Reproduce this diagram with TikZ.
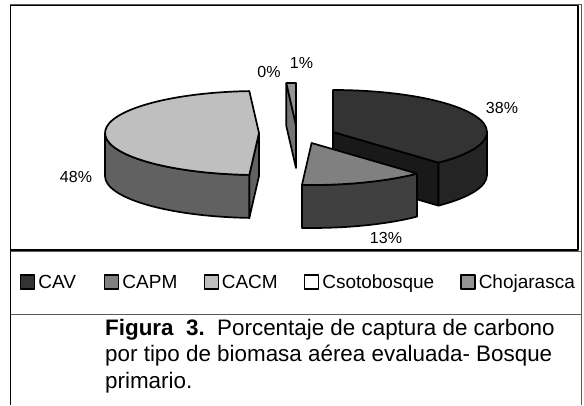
\documentclass[tikz,border=0pt]{standalone}
\usepackage{fontspec}
\setmainfont{Liberation Sans}
\usetikzlibrary{positioning}
\definecolor{cavtop}{gray}{0.2}
\definecolor{cavside}{gray}{0.14}
\definecolor{cavcut}{gray}{0.1}
\definecolor{capmtop}{gray}{0.5}
\definecolor{capmside}{gray}{0.25}
\definecolor{cacmtop}{gray}{0.75}
\definecolor{cacmside}{gray}{0.38}
\definecolor{chojtop}{gray}{0.58}
\definecolor{chojside}{gray}{0.45}
\definecolor{rule}{gray}{0.35}

\begin{document}
\begin{tikzpicture}[x=1pt,y=1pt,
line join=round,
rim/.style={x radius=154,y radius=42},
face/.style={%
draw,
line width=1.7pt
},
pct/.style={%
font=\fontsize{16}{19}\selectfont,
inner sep=0pt
},
key/.style={%
anchor=west,
draw,
line width=1.1pt,
minimum size=14pt,
inner sep=0pt
},
keytext/.style={%
font=\fontsize{19}{22}\selectfont,
text height=13.6pt,
text depth=0pt,
inner sep=0pt
},
caption/.style={%
font=\fontsize{22.4}{26.5}\selectfont,
anchor=north west,
align=left,
inner sep=0pt
},
]
\useasboundingbox(0,0)rectangle(584,405);
%% frame
\draw[rule,line width=1pt](10.5,0)--(10.5,400)--(581,400)--(581,0);
\draw[rule,line width=1pt](10.5,154)--(581,154);
\draw[rule,line width=1pt](10.5,91)--(581,91);
\draw[line width=1.2pt](10.5,155)rectangle(578,399.5);
\draw[line width=1.2pt](10.5,0)--(10.5,400);
%% Chojarasca
\begin{scope}[shift={(296,280)}]
\draw[face,fill=chojside](0,0)--(93.6:154 and 42)--++(0,-43)--(0,-43)--cycle;
\draw[face,fill=chojtop](0,0)--(90:154 and 42)arc[rim,start angle=90,end angle=93.6]--cycle;
\end{scope}
%% CACM
\begin{scope}[shift={(259,272)}]
\draw[face,fill=cacmside](0,0)--(266.4:154 and 42)--++(0,-43)--(0,-43)--cycle;
\draw[face,fill=cacmside](180:154 and 42)arc[rim,start angle=180,end angle=266.4]--++(0,-43)arc[rim,start angle=266.4,end angle=180]--cycle;
\draw[face,fill=cacmtop](0,0)--(93.6:154 and 42)arc[rim,start angle=93.6,end angle=266.4]--cycle;
\end{scope}
%% CAV
\begin{scope}[shift={(333,273)}]
\draw[face,fill=cavcut](0,0)--(-46.8:154 and 42)--++(0,-43)--(0,-43)--cycle;
\draw[face,fill=cavside](0:154 and 42)arc[rim,start angle=0,end angle=-46.8]--++(0,-43)arc[rim,start angle=-46.8,end angle=0]--cycle;
\draw[face,fill=cavtop](0,0)--(90:154 and 42)arc[rim,start angle=90,end angle=-46.8]--cycle;
\end{scope}
%% CAPM
\begin{scope}[shift={(311.6,262)}]
\draw[face,fill=capmside](-46.8:154 and 42)arc[rim,start angle=-46.8,end angle=-93.6]--++(0,-43)arc[rim,start angle=-93.6,end angle=-46.8]--cycle;
\draw[face,fill=capmtop](0,0)--(-46.8:154 and 42)arc[rim,start angle=-46.8,end angle=-93.6]--cycle;
\end{scope}
%% percentages
\node[pct]at(502,297)(p38){38\%};
\node[pct]at(386,167)(p13){13\%};
\node[pct]at(76,228)(p48){48\%};
\node[pct]at(269,333)(p0){0\%};
\node[pct]at(301.5,342)(p1){1\%};
%% legend
\node[key,fill=cavtop]at(20,123)(kcav){};
\node[keytext,right=3pt of kcav](tcav){CAV};
\node[key,fill=capmtop,right=28pt of tcav](kcapm){};
\node[keytext,right=3pt of kcapm](tcapm){CAPM};
\node[key,fill=cacmtop,right=26pt of tcapm](kcacm){};
\node[keytext,right=3pt of kcacm](tcacm){CACM};
\node[key,fill=white,right=26pt of tcacm](ksoto){};
\node[keytext,right=3pt of ksoto](tsoto){Csotobosque};
\node[key,fill=chojtop,right=26pt of tsoto](kchoj){};
\node[keytext,right=3pt of kchoj](tchoj){Chojarasca};
%% caption
\node[caption]at(105,86)(cap){\textbf{Figura\ \ 3.}\ \ Porcentaje de captura de carbono\\por tipo de biomasa aérea evaluada- Bosque\\primario.};
\end{tikzpicture}
\end{document}
